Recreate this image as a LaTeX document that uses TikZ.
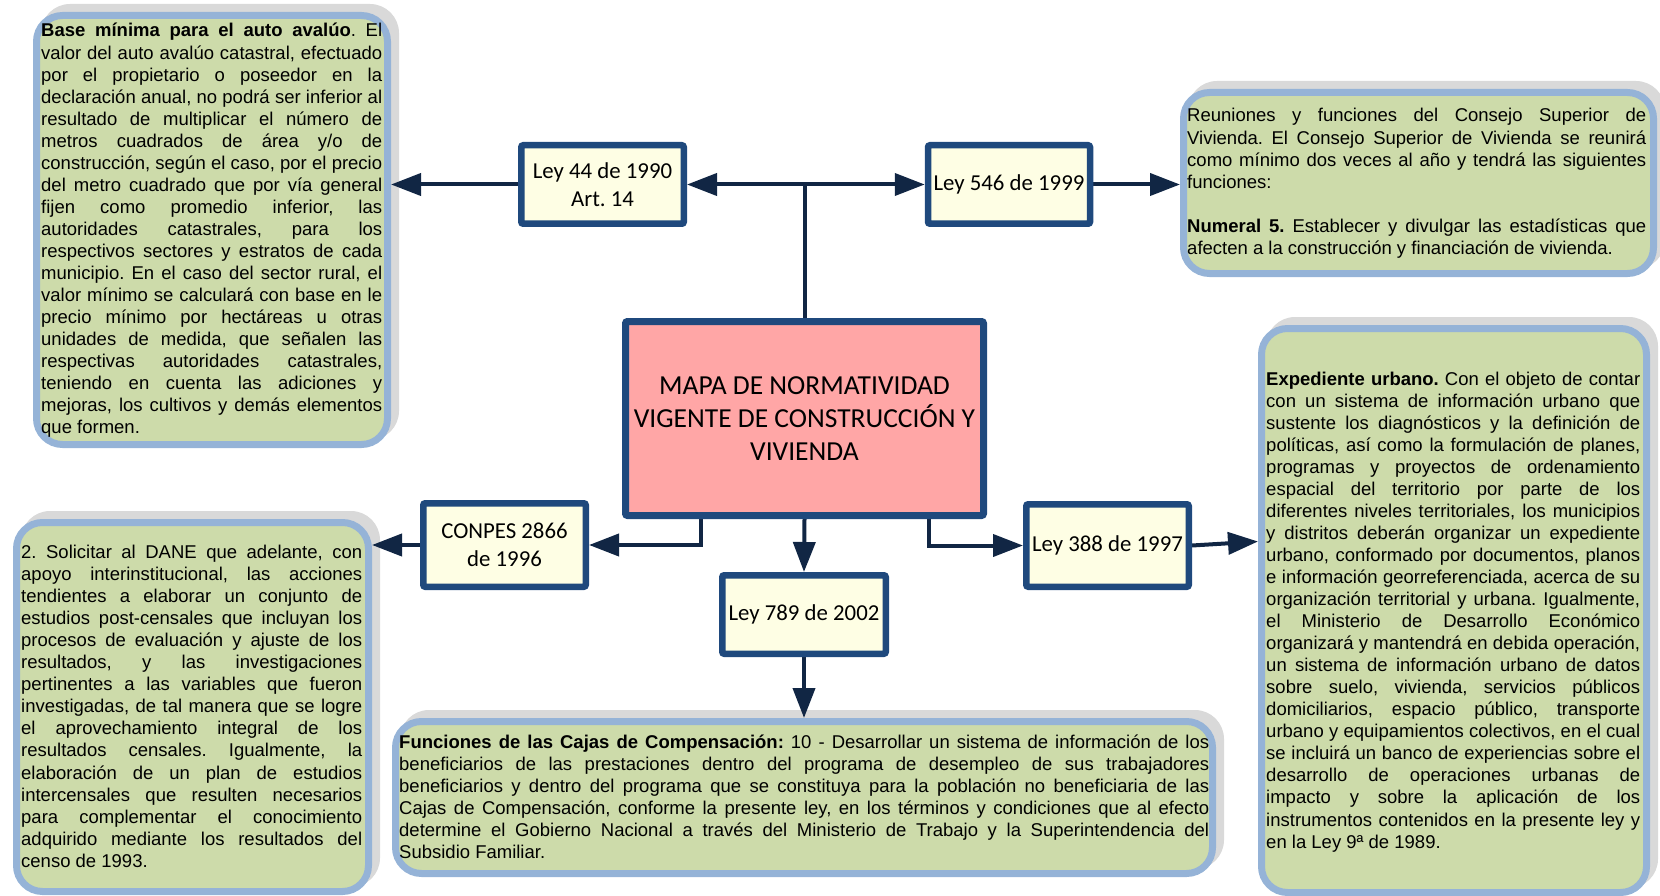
\documentclass[tikz,border=0pt]{standalone}
\usepackage{fontspec}
\setmainfont{Liberation Sans}
\newfontfamily\calibrifont{Carlito}
\usetikzlibrary{arrows.meta}
\definecolor{gfill}{RGB}{205,219,170}
\definecolor{gborder}{RGB}{149,179,215}
\definecolor{shadowgray}{RGB}{217,217,217}
\definecolor{lawfill}{RGB}{254,254,228}
\definecolor{navyborder}{RGB}{31,73,125}
\definecolor{pinkfill}{RGB}{255,166,166}
\definecolor{linenavy}{RGB}{17,38,68}
\frenchspacing
\newcommand\jline[1]{\hbox to \hsize{#1}}
\newcommand\lline[1]{\hbox{#1}}
\newcommand\textblock[2]{\vtop{\hsize=#1\relax #2}}
\pgfdeclarelayer{shadowlayer}
\pgfdeclarelayer{linelayer}
\pgfsetlayers{shadowlayer,linelayer,main}
\begin{document}
\begin{tikzpicture}[x=1pt,y=-1pt,
  gbox/.style={draw=gborder, fill=gfill, line width=7pt, rounded corners=26pt, inner sep=0pt},
  law/.style={draw=navyborder, fill=lawfill, line width=6.5pt, rounded corners=2pt, inner sep=0pt, align=center, font=\calibrifont\fontsize{22.8}{28}\selectfont},
  titlebox/.style={draw=navyborder, fill=pinkfill, line width=7pt, rounded corners=2pt, inner sep=0pt, align=center, font=\calibrifont\fontsize{27.5}{33}\selectfont},
  txt/.style={inner sep=0pt, anchor=base west, font=\frenchspacing\fontsize{18.5}{22.05}\selectfont},
  conn/.style={draw=linenavy, line width=4pt},
  arr/.style={-{Triangle[length=30pt,width=22pt]}},
  shadowbox/.style={fill=shadowgray, rounded corners=29pt}
]
\useasboundingbox (0,0) rectangle (1660,896);

% green boxes
\node[gbox, minimum width=351pt, minimum height=429pt] (b1) at (212,230) {};
\node[gbox, minimum width=470pt, minimum height=181pt] (b2) at (1418.5,183) {};
\node[gbox, minimum width=352pt, minimum height=369pt] (b3) at (192.5,707) {};
\node[gbox, minimum width=817pt, minimum height=152pt] (b4) at (804,797.5) {};
\node[gbox, minimum width=385pt, minimum height=564pt] (b5) at (1454,610.5) {};

% texts
\node[txt] (t1) at (41,37) {\textblock{341pt}{%
\jline{\textbf{Base mínima para el auto avalúo}. El}
\jline{valor del auto avalúo catastral, efectuado}
\jline{por el propietario o poseedor en la}
\jline{declaración anual, no podrá ser inferior al}
\jline{resultado de multiplicar el número de}
\jline{metros cuadrados de área y/o de}
\jline{construcción, según el caso, por el precio}
\jline{del metro cuadrado que por vía general}
\jline{fijen como promedio inferior, las}
\jline{autoridades catastrales, para los}
\jline{respectivos sectores y estratos de cada}
\jline{municipio. En el caso del sector rural, el}
\jline{valor mínimo se calculará con base en le}
\jline{precio mínimo por hectáreas u otras}
\jline{unidades de medida, que señalen las}
\jline{respectivas autoridades catastrales,}
\jline{teniendo en cuenta las adiciones y}
\jline{mejoras, los cultivos y demás elementos}
\lline{que formen.}}};

\node[txt] (t2) at (1187,122) {\textblock{459pt}{%
\jline{Reuniones y funciones del Consejo Superior de}
\jline{Vivienda. El Consejo Superior de Vivienda se reunirá}
\jline{como mínimo dos veces al año y tendrá las siguientes}
\lline{funciones:}
\lline{\strut}
\jline{\textbf{Numeral 5.} Establecer y divulgar las estadísticas que}
\lline{afecten a la construcción y financiación de vivienda.}}};

\node[txt] (t3) at (21,558.5) {\textblock{341pt}{%
\jline{2. Solicitar al DANE que adelante, con}
\jline{apoyo interinstitucional, las acciones}
\jline{tendientes a elaborar un conjunto de}
\jline{estudios post-censales que incluyan los}
\jline{procesos de evaluación y ajuste de los}
\jline{resultados, y las investigaciones}
\jline{pertinentes a las variables que fueron}
\jline{investigadas, de tal manera que se logre}
\jline{el aprovechamiento integral de los}
\jline{resultados censales. Igualmente, la}
\jline{elaboración de un plan de estudios}
\jline{intercensales que resulten necesarios}
\jline{para complementar el conocimiento}
\jline{adquirido mediante los resultados del}
\lline{censo de 1993.}}};

\node[txt] (t4) at (399,748) {\textblock{810pt}{%
\jline{\textbf{Funciones de las Cajas de Compensación:} 10 - Desarrollar un sistema de información de los}
\jline{beneficiarios de las prestaciones dentro del programa de desempleo de sus trabajadores}
\jline{beneficiarios y dentro del programa que se constituya para la población no beneficiaria de las}
\jline{Cajas de Compensación, conforme la presente ley, en los términos y condiciones que al efecto}
\jline{determine el Gobierno Nacional a través del Ministerio de Trabajo y la Superintendencia del}
\lline{Subsidio Familiar.}}};

\node[txt] (t5) at (1266,385) {\textblock{374pt}{%
\jline{\textbf{Expediente urbano.} Con el objeto de contar}
\jline{con un sistema de información urbano que}
\jline{sustente los diagnósticos y la definición de}
\jline{políticas, así como la formulación de planes,}
\jline{programas y proyectos de ordenamiento}
\jline{espacial del territorio por parte de los}
\jline{diferentes niveles territoriales, los municipios}
\jline{y distritos deberán organizar un expediente}
\jline{urbano, conformado por documentos, planos}
\jline{e información georreferenciada, acerca de su}
\jline{organización territorial y urbana. Igualmente,}
\jline{el Ministerio de Desarrollo Económico}
\jline{organizará y mantendrá en debida operación,}
\jline{un sistema de información urbano de datos}
\jline{sobre suelo, vivienda, servicios públicos}
\jline{domiciliarios, espacio público, transporte}
\jline{urbano y equipamientos colectivos, en el cual}
\jline{se incluirá un banco de experiencias sobre el}
\jline{desarrollo de operaciones urbanas de}
\jline{impacto y sobre la aplicación de los}
\jline{instrumentos contenidos en la presente ley y}
\lline{en la Ley 9ª de 1989.}}};

% central and law boxes
\node[titlebox, minimum width=358pt, minimum height=194pt] (main) at (804.5,418.5) {MAPA DE NORMATIVIDAD\\VIGENTE DE CONSTRUCCIÓN Y\\VIVIENDA};
\node[law, minimum width=162.5pt, minimum height=78.5pt] (l44) at (602.5,184.5) {Ley 44 de 1990\\Art. 14};
\node[law, minimum width=162pt, minimum height=78.5pt] (l546) at (1009,184.5) {Ley 546 de 1999};
\node[law, minimum width=162.5pt, minimum height=83.5pt] (conpes) at (504.5,545) {CONPES 2866\\de 1996};
\node[law, minimum width=162.5pt, minimum height=82.5pt] (l388) at (1107.5,545.5) {Ley 388 de 1997};
\node[law, minimum width=163.5pt, minimum height=78.5pt] (l789) at (804,614.5) {Ley 789 de 2002};

% connectors
\begin{pgfonlayer}{linelayer}
\coordinate (T) at (main.north |- l44.east);
\coordinate (e5) at ([yshift=69pt]b5.west);
\draw[conn] (main.north) -- (T);
\draw[conn,arr] (T) -- (l44.east);
\draw[conn,arr] (T) -- (l546.west);
\draw[conn,arr] (l44.west) -- (l44.west -| b1.east);
\draw[conn,arr] (l546.east) -- (l546.east -| b2.west);
\draw[conn,arr] ([xshift=-104pt]main.south) |- (conpes.east);
\draw[conn,arr] (conpes.west) -- (conpes.west -| b3.east);
\draw[conn,arr] (main.south) -- (l789.north);
\draw[conn,arr] ([xshift=124pt]main.south) |- (l388.west);
\draw[conn,arr] (l388.east) -- (e5);
\draw[conn,arr] (l789.south) -- (b4.north);
\end{pgfonlayer}

% shadows
\begin{pgfonlayer}{shadowlayer}
\foreach \b in {b1,b2,b3,b4,b5}{
  \fill[shadowbox] ([xshift=8pt,yshift=8pt]\b.south west) rectangle ([xshift=8pt,yshift=8pt]\b.north east);
}
\end{pgfonlayer}
\end{tikzpicture}
\end{document}
